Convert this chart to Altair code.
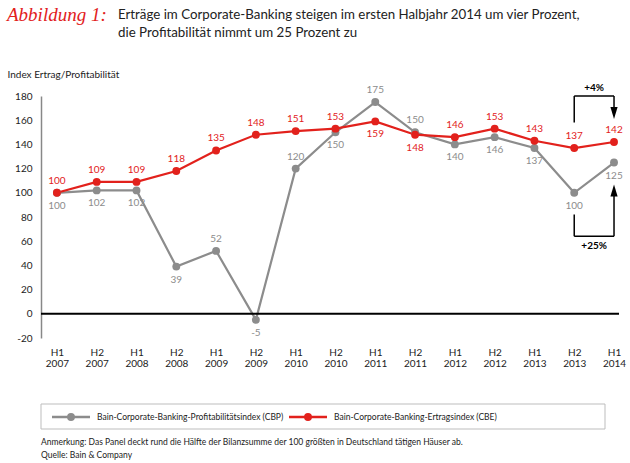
import json
import altair as alt
import pandas as pd

# ---------------- data ----------------
periods = ["H1 2007", "H2 2007", "H1 2008", "H2 2008", "H1 2009", "H2 2009", "H1 2010",
           "H2 2010", "H1 2011", "H2 2011", "H1 2012", "H2 2012", "H1 2013", "H2 2013", "H1 2014"]
cbp = [100, 102, 102, 39, 52, -5, 120, 150, 175, 150, 140, 146, 137, 100, 125]
cbe = [100, 109, 109, 118, 135, 148, 151, 153, 159, 148, 146, 153, 143, 137, 142]
series_names = ["Bain-Corporate-Banking-Profitabilitätsindex (CBP)",
                "Bain-Corporate-Banking-Ertragsindex (CBE)"]
y_ticks = [-20, 0, 20, 40, 60, 80, 100, 120, 140, 160, 180]
# label placement (above / below the point)
cbp_label_side = ["below", "below", "below", "below", "above", "below", "above", "below",
                  "above", "above", "below", "below", "below", "below", "below"]
cbe_label_side = ["above", "above", "above", "above", "above", "above", "above", "above",
                  "below", "below", "above", "above", "above", "above", "above"]

title_line1 = "Erträge im Corporate-Banking steigen im ersten Halbjahr 2014 um vier Prozent,"
title_line2 = "die Profitabilität nimmt um 25 Prozent zu"
fig_label = "Abbildung 1:"
y_title = "Index Ertrag/Profitabilität"
note_lines = ["Anmerkung: Das Panel deckt rund die Hälfte der Bilanzsumme der 100 größten in Deutschland tätigen Häuser ab.",
              "Quelle: Bain & Company"]

# change annotations (bracket polylines in data units)
change_texts = ["+4%", "+25%"]
bracket_x = [13, 13, 14, 14]
top_bracket_y = [158, 180, 180, 166]
bottom_bracket_y = [82, 64, 64, 102]

RED = "#e2211c"
GREY = "#8c8c8c"
GREY_TXT = "#9a9a9a"
FONT = "Lato"

rows = []
for i, p in enumerate(periods):
    rows.append({"i": i, "period": p, "series": series_names[0], "value": cbp[i], "side": cbp_label_side[i]})
    rows.append({"i": i, "period": p, "series": series_names[1], "value": cbe[i], "side": cbe_label_side[i]})
df = pd.DataFrame(rows)
df["label"] = df["value"].astype(str)

W, H = 577, 242
xscale = alt.Scale(domain=[-0.4, 14.1], nice=False, zero=False)
yscale = alt.Scale(domain=[-20, 180], nice=False, zero=False)
color = alt.Scale(domain=series_names, range=[GREY, RED])

label_expr = "split(" + json.dumps(periods) + "[datum.value], ' ')"

x_axis = alt.Axis(values=list(range(15)), labelExpr=label_expr, title=None,
                  domain=False, ticks=False, grid=False, labelPadding=9,
                  labelLineHeight=11, labelFontSize=10, labelColor="#222",
                  labelFont=FONT, labelOverlap=False)
y_axis = alt.Axis(values=y_ticks, labelExpr="'' + datum.value",
                  title=y_title, titleAngle=0,
                  titleAlign="left", titleBaseline="middle", titleX=-34, titleY=-22,
                  titleFont=FONT, titleFontSize=10, titleFontWeight="normal",
                  titleColor="#222", domain=True, domainColor="#888",
                  domainWidth=1.5, ticks=False, grid=False, labelPadding=9,
                  labelFontSize=10, labelColor="#222", labelFont=FONT,
                  labelOverlap=False, labelFlush=False, labelBound=False)

X = lambda f: alt.X(f, scale=xscale, axis=x_axis, title=None)
Y = lambda f: alt.Y(f, scale=yscale, axis=y_axis, title=y_title)

base = alt.Chart(df)

lines = base.mark_line(strokeWidth=2.2).encode(
    x=X("i:Q"), y=Y("value:Q"),
    color=alt.Color("series:N", scale=color, legend=None),
)

zero_rule = alt.Chart(pd.DataFrame({"v": [0]})).mark_rule(color="black", strokeWidth=2).encode(
    y=Y("v:Q"), x=alt.value(0), x2=alt.value(W + 1))

points = base.mark_circle(size=62, opacity=1).encode(
    x=X("i:Q"), y=Y("value:Q"),
    color=alt.Color("series:N", scale=color, legend=None))

txt_color = alt.Scale(domain=series_names, range=[GREY_TXT, RED])
lab_above = base.transform_filter("datum.side == 'above'").mark_text(
    dy=-12, font=FONT, fontSize=10, baseline="middle").encode(
    x=X("i:Q"), y=Y("value:Q"),
    text="label:N", color=alt.Color("series:N", scale=txt_color, legend=None))
lab_below = base.transform_filter("datum.side == 'below'").mark_text(
    dy=13, font=FONT, fontSize=10, baseline="middle").encode(
    x=X("i:Q"), y=Y("value:Q"),
    text="label:N", color=alt.Color("series:N", scale=txt_color, legend=None))

# brackets
seg = []
for k, ys in enumerate([top_bracket_y, bottom_bracket_y]):
    for j in range(3):
        seg.append({"b": k, "x": bracket_x[j], "y": ys[j], "x2": bracket_x[j + 1], "y2": ys[j + 1]})
seg_df = pd.DataFrame(seg)
brackets = alt.Chart(seg_df).mark_rule(color="black", strokeWidth=1.5).encode(
    x=X("x:Q"), y=Y("y:Q"), x2="x2:Q", y2="y2:Q")
heads_df = pd.DataFrame({"x": [bracket_x[3], bracket_x[3]],
                         "y": [top_bracket_y[3], bottom_bracket_y[3]],
                         "dir": ["down", "up"]})
head_down = alt.Chart(heads_df).transform_filter("datum.dir == 'down'").mark_point(
    shape="M-0.6,-1L0.6,-1L0,1Z", size=144, filled=True, fill="black", color="black",
    opacity=1).encode(x=X("x:Q"), y=Y("y:Q"))
head_up = alt.Chart(heads_df).transform_filter("datum.dir == 'up'").mark_point(
    shape="M-0.6,1L0.6,1L0,-1Z", size=144, filled=True, fill="black", color="black",
    opacity=1).encode(x=X("x:Q"), y=Y("y:Q"))
chg_df = pd.DataFrame({"x": [13.5, 13.5], "y": [top_bracket_y[1], bottom_bracket_y[1]],
                       "t": change_texts})
chg_top = alt.Chart(chg_df.iloc[[0]]).mark_text(font=FONT, fontSize=10, fontWeight="bold",
                                                dy=-8, baseline="middle").encode(
    x=X("x:Q"), y=Y("y:Q"), text="t:N")
chg_bot = alt.Chart(chg_df.iloc[[1]]).mark_text(font=FONT, fontSize=10, fontWeight="bold",
                                                dy=10, baseline="middle").encode(
    x=X("x:Q"), y=Y("y:Q"), text="t:N")

# titles
one = pd.DataFrame({"a": [0]})
fig = alt.Chart(one).mark_text(text=fig_label, font="Liberation Serif", fontStyle="italic",
                               fontSize=19, color=RED, align="left", baseline="middle").encode(
    x=alt.value(-34), y=alt.value(-81))
t1 = alt.Chart(one).mark_text(text=title_line1, font=FONT, fontSize=13.3, color="#222",
                              align="left", baseline="middle").encode(x=alt.value(77), y=alt.value(-81))
t2 = alt.Chart(one).mark_text(text=title_line2, font=FONT, fontSize=13.3, color="#222",
                              align="left", baseline="middle").encode(x=alt.value(77), y=alt.value(-63))

# legend
box = alt.Chart(one).mark_rect(fill="white", stroke="#bdbdbd", strokeWidth=1).encode(
    x=alt.value(0), x2=alt.value(564), y=alt.value(308), y2=alt.value(333))
leg_items = []
for nm, c, x0 in [(series_names[0], GREY, 11), (series_names[1], RED, 248)]:
    leg_items.append(alt.Chart(one).mark_rule(color=c, strokeWidth=2.5).encode(
        x=alt.value(x0), x2=alt.value(x0 + 38), y=alt.value(321)))
    leg_items.append(alt.Chart(one).mark_circle(color=c, size=62, opacity=1).encode(
        x=alt.value(x0 + 19), y=alt.value(321)))
    leg_items.append(alt.Chart(one).mark_text(text=nm, font=FONT, fontSize=8.5, color="#222",
                                              align="left", baseline="middle").encode(
        x=alt.value(x0 + 45), y=alt.value(321)))
notes = [alt.Chart(one).mark_text(text=t, font=FONT, fontSize=8.5, color="#222", align="left",
                                  baseline="middle").encode(x=alt.value(0), y=alt.value(yy))
         for t, yy in zip(note_lines, [346, 359])]

chart = alt.layer(lines, zero_rule, points, lab_above, lab_below, brackets, head_down, head_up,
                  chg_top, chg_bot, fig, t1, t2, box, *leg_items, *notes).properties(
    width=W, height=H, autosize="none",
    padding={"left": 41, "top": 96, "right": 12, "bottom": 125},
).configure_view(stroke=None, clip=False).configure_axis(labelOverlap=False)

chart.save("out.html", embed_options={"renderer": "svg", "actions": False})
